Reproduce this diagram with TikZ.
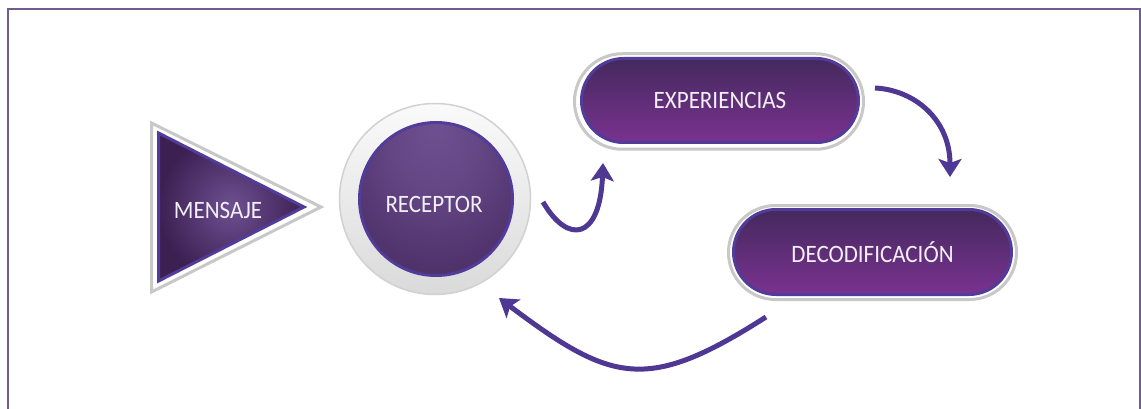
\documentclass[tikz,border=0pt]{standalone}
\usepackage{fontspec}
\newfontfamily\lblfont{Carlito}[FakeStretch=0.92]
\usetikzlibrary{shapes.misc,arrows.meta}
\definecolor{pdark}{HTML}{44295E}
\definecolor{plight}{HTML}{7A3290}
\definecolor{pborder}{HTML}{513C9A}
\definecolor{graybd}{HTML}{C8C8C8}
\definecolor{framec}{HTML}{6F5C90}
\definecolor{arrowc}{HTML}{4E3893}
\definecolor{glowc}{HTML}{6E5092}
\definecolor{deepc}{HTML}{3C2052}
\definecolor{ringlight}{HTML}{FAFAFA}
\definecolor{ringdark}{HTML}{DADADA}
\definecolor{txtc}{HTML}{F2F0F6}
\pgfdeclareradialshading{topglow}{\pgfpoint{0bp}{24bp}}{color(0bp)=(glowc); color(14bp)=(glowc!80!deepc); color(48bp)=(deepc); color(50bp)=(deepc)}
\tikzset{
  lbl/.style={text=txtc, font=\lblfont\fontsize{25}{25}\selectfont, inner sep=0pt},
  pill/.style={rounded rectangle, draw=pborder, line width=3pt, top color=pdark, bottom color=plight, lbl},
  pillring/.style={rounded rectangle, draw=graybd, line width=3pt, fill=white, inner sep=0pt},
  conn/.style={draw=arrowc, line width=5pt, -{Stealth[length=18pt,width=23pt,inset=4pt]}},
}
\begin{document}
\begin{tikzpicture}[x=1pt,y=-1pt]
\useasboundingbox (0,0) rectangle (1141,409);
\fill[white] (0,0) rectangle (1141,409);
% frame
\draw[framec, line width=2pt] (8,430) -- (8,9) -- (1140,9) -- (1140,430);

% triangle MENSAJE
\coordinate (ta) at (151.5,123);
\coordinate (tb) at (151.5,292);
\coordinate (tc) at (321,207);
\draw[graybd, line width=3pt, line join=miter, fill=white] (ta) -- (tb) -- (tc) -- cycle;
\coordinate (ia) at (158.5,133);
\coordinate (ib) at (158.5,281);
\coordinate (ic) at (304,207);
\shade[inner color=glowc, outer color=deepc] (ia) -- (ib) -- (ic) -- cycle;
\draw[pborder, line width=3pt, line join=miter] (ia) -- (ib) -- (ic) -- cycle;
\node[lbl] (msj) at (218,210) {MENSAJE};

% circle RECEPTOR
\node[circle, minimum size=191pt, inner sep=0pt, draw=ringdark!90!gray, line width=1.5pt,
      top color=ringlight, bottom color=ringdark] (recring) at (435,199) {};
\node[circle, minimum size=153pt, inner sep=0pt, draw=pborder, line width=3pt,
      shading=topglow] (recin) at (436,199) {};
\node[lbl] (rec) at (434,204) {RECEPTOR};

% EXPERIENCIAS
\node[pillring, minimum width=289pt, minimum height=95.5pt] (expring) at (719,101.5) {};
\node[pill, minimum width=277pt, minimum height=84pt] (exp) at (720,100.5) {EXPERIENCIAS};

% DECODIFICACION
\node[pillring, minimum width=288pt, minimum height=94pt] (decring) at (872.5,252.5) {};
\node[pill, minimum width=278pt, minimum height=85pt] (dec) at (872.5,252) {DECODIFICACIÓN};

% connectors
\coordinate (a1s) at (543,202);
\coordinate (a1e) at (603,163);
\draw[conn] (a1s) .. controls (568,245) and (600,240) .. (a1e);
\coordinate (a2s) at (875,88);
\coordinate (a2e) at (950,177);
\draw[conn] (a2s) .. controls (915,90) and (950,120) .. (a2e);
\coordinate (a3s) at (766,317);
\coordinate (a3e) at (499,298);
\draw[conn] (a3s) .. controls (647,393) and (612,383) .. (a3e);
\end{tikzpicture}
\end{document}
